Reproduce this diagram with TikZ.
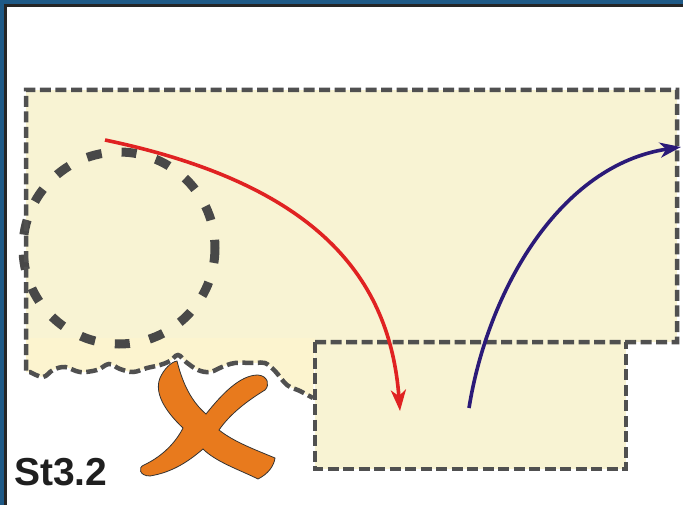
\documentclass[tikz,border=0pt]{standalone}
\usepackage{fontspec}
\setmainfont{Liberation Sans}
\usetikzlibrary{arrows.meta, positioning}

\definecolor{panelfill}{HTML}{F8F3D3}
\definecolor{lightfill}{HTML}{FCF4CF}
\definecolor{frameblue}{HTML}{1F5A87}
\definecolor{dashgray}{HTML}{505050}
\definecolor{crossorange}{HTML}{E87A1D}
\definecolor{flowred}{HTML}{E02222}
\definecolor{flownavy}{HTML}{2B1A78}

\begin{document}
\begin{tikzpicture}[x=1pt, y=-1pt,
  boxline/.style={draw=dashgray, line width=4.5pt, dash pattern=on 11pt off 4.5pt},
  ringline/.style={draw=dashgray!90!black, line width=9pt, dash pattern=on 15pt off 20pt},
  flow/.style={line width=3.6pt, -{Stealth[length=21pt, width=15pt, inset=6pt]}}]
\useasboundingbox (0,0) rectangle (683,505);

% frame
\fill[frameblue] (0,0) rectangle (683,4);
\fill[frameblue] (0,0) rectangle (4,505);
\draw[line width=3pt, black!85] (5.5,505) -- (5.5,5.5) -- (683,5.5);

% panels
\fill[panelfill] (26,90) rectangle (677,342);
\fill[lightfill] (26,338) -- (26,372) -- plot[smooth, tension=0.6] coordinates {
  (30,372) (43,377) (53,370) (65,367) (80,372) (97,370) (109,364) (120,369)
  (133,372) (147,368) (160,365) (170,361) (178,355) (186,362) (198,370)
  (210,372) (222,367) (235,363) (255,363) (265,363) (275,371) (287,385)
  (300,391) (313,398)} -- (315,338) -- cycle;
\fill[panelfill] (315,342) rectangle (626,469);

\draw[ringline] (119,248) circle (96);

\draw[boxline] (315,342) -- (677,342) -- (677,90) -- (26,90) -- (26,372)
  -- plot[smooth, tension=0.6] coordinates {
  (30,372) (43,377) (53,370) (65,367) (80,372) (97,370) (109,364) (120,369)
  (133,372) (147,368) (160,365) (170,361) (178,355) (186,362) (198,370)
  (210,372) (222,367) (235,363) (255,363) (265,363) (275,371) (287,385)
  (300,391) (313,398)};
\draw[boxline] (315,342) -- (315,469) -- (626,469) -- (626,342);

% cross
\filldraw[fill=crossorange, draw=black!80, line width=0.8pt]
  (177,361) .. controls (183,385) and (192,402) .. (206,414)
  .. controls (222,394) and (240,375) .. (258,375)
  .. controls (268,376) and (270,385) .. (265,390)
  .. controls (247,401) and (230,414) .. (219,430)
  .. controls (234,442) and (256,450) .. (275,458)
  .. controls (274,466) and (268,474) .. (258,479)
  .. controls (240,470) and (216,462) .. (203,449)
  .. controls (190,460) and (174,472) .. (150,476)
  .. controls (139,476) and (138,467) .. (144,465)
  .. controls (163,456) and (176,442) .. (183,428)
  .. controls (165,411) and (154,393) .. (160,378)
  .. controls (164,369) and (171,362) .. (177,361) -- cycle;

\node[anchor=base west, inner sep=0pt, text=black!88,
      font=\fontsize{39}{39}\selectfont\bfseries] (stlabel) at (14,485) {St3.2};

% flows
\coordinate (redstart) at (105,140);
\coordinate (redend) at (400,411);
\coordinate (navystart) at (469,408);
\coordinate (navyend) at (681,147);
\draw[flow, flowred] (redstart) .. controls (320,185) and (390,280) .. (redend);
\draw[flow, flownavy] (navystart) .. controls (488,290) and (560,165) .. (navyend);
\end{tikzpicture}
\end{document}
